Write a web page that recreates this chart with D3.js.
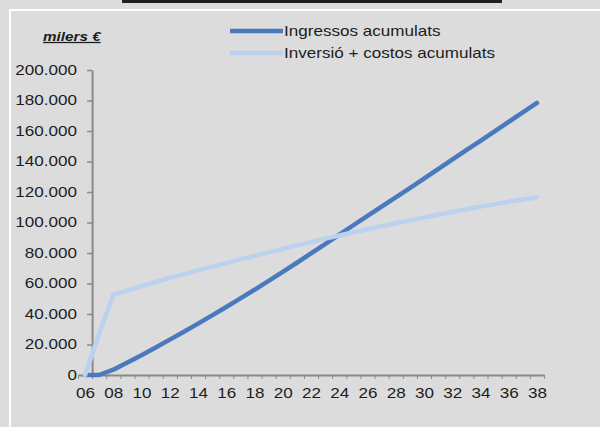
<!DOCTYPE html>
<html>
<head>
<meta charset="utf-8">
<script src="https://cdn.jsdelivr.net/npm/d3@7"></script>
<style>
  html, body { margin: 0; padding: 0; background: #dcdcdc; }
  svg { display: block; }
  text { font-family: "Liberation Sans", Arial, sans-serif; fill: #1c1c1c; transform-box: fill-box; }
  .sx-end   { transform-origin: right center;  transform: scaleX(1.22); }
  .sx-mid   { transform-origin: center center; transform: scaleX(1.22); }
  .sx-start { transform-origin: left center;   transform: scaleX(1.22); }
</style>
</head>
<body>
<svg id="chart" width="600" height="427"></svg>
<script>
// Years on the category axis (2006 – 2038)
const years = [2006, 2007, 2008, 2009, 2010, 2011, 2012, 2013, 2014, 2015, 2016,
               2017, 2018, 2019, 2020, 2021, 2022, 2023, 2024, 2025, 2026, 2027,
               2028, 2029, 2030, 2031, 2032, 2033, 2034, 2035, 2036, 2037, 2038];

// Cumulative revenue (thousands of €)
const ingressos = [0, 0, 3500, 8200, 13000, 18000, 23200, 28400, 33700, 39100, 44600,
                   50200, 55900, 61700, 67600, 73600, 79700, 85800, 92000, 98200, 104300,
                   110400, 116500, 122600, 128800, 135000, 141200, 147400, 153600, 159800,
                   166000, 172200, 178400];

// Cumulative investment + costs (thousands of €)
const inversio = [0, 27000, 52500, 55500, 58300, 61000, 63600, 66100, 68600, 71000, 73400,
                  75800, 78100, 80400, 82700, 85000, 87200, 89400, 91500, 93600, 95600,
                  97600, 99500, 101400, 103300, 105100, 106900, 108700, 110400, 112000,
                  113600, 115100, 116600];

const yTicks = [0, 20000, 40000, 60000, 80000, 100000, 120000, 140000, 160000, 180000, 200000];
const xLabelYears = [2006, 2008, 2010, 2012, 2014, 2016, 2018, 2020, 2022,
                     2024, 2026, 2028, 2030, 2032, 2034, 2036, 2038];
const seriesNames = ["Ingressos acumulats", "Inversió + costos acumulats"];
const unitLabel = "milers €";

const colors = { ingressos: "#4a79bd", inversio: "#bcd1ee" };
const axisColor = "#8a8a8a";

const svg = d3.select("#chart");

// Frame: dark strip at the top and the white panel edge
svg.append("rect").attr("x", 122).attr("y", 0).attr("width", 380).attr("height", 3).attr("fill", "#1e1e1e");
svg.append("line").attr("x1", 9).attr("x2", 600).attr("y1", 10).attr("y2", 10)
  .attr("stroke", "#ffffff").attr("stroke-width", 2);
svg.append("line").attr("x1", 10).attr("x2", 10).attr("y1", 9).attr("y2", 427)
  .attr("stroke", "#ffffff").attr("stroke-width", 2);

// Scales: categories sit between half-year boundaries
const x = d3.scaleLinear().domain([2005.5, 2038.5]).range([78, 544]);
const y = d3.scaleLinear().domain([0, 200000]).range([375, 70]);
const yAxisAt = 2006.5;

const locale = d3.formatLocale({ decimal: ",", thousands: ".", grouping: [3], currency: ["", " €"] });
const fmt = locale.format(",");

// Y axis
const gy = svg.append("g")
  .attr("transform", `translate(${x(yAxisAt)},0)`)
  .call(d3.axisLeft(y).tickValues(yTicks).tickFormat(fmt).tickSize(5).tickSizeOuter(0).tickPadding(10));
gy.select(".domain").attr("stroke", axisColor).attr("stroke-width", 2);
gy.selectAll(".tick line").attr("stroke", axisColor).attr("stroke-width", 1.5);
gy.selectAll(".tick text").attr("class", "sx-end").style("font-size", "14px").attr("fill", "#1c1c1c");

// X axis: minor ticks at every category boundary
const boundaries = years.map(d => d - 0.5).concat([years[years.length - 1] + 0.5]);
const gx = svg.append("g")
  .attr("transform", `translate(0,${y(0)})`)
  .call(d3.axisBottom(x).tickValues(boundaries).tickFormat("").tickSize(4).tickSizeOuter(0));
gx.select(".domain").attr("stroke", axisColor).attr("stroke-width", 2);
gx.selectAll(".tick line").attr("stroke", axisColor).attr("stroke-width", 1);

// X labels every two years
const gxl = svg.append("g")
  .attr("transform", `translate(0,${y(0)})`)
  .call(d3.axisBottom(x).tickValues(xLabelYears).tickFormat(d => String(d).slice(2)).tickSize(0).tickPadding(13));
gxl.select(".domain").remove();
gxl.selectAll(".tick text").attr("class", "sx-mid").style("font-size", "14px").attr("fill", "#1c1c1c");

// Unit label
svg.append("text")
  .attr("x", 43).attr("y", 41)
  .attr("class", "sx-start")
  .style("font-size", "12.5px").style("font-weight", "bold").style("font-style", "italic")
  .style("text-decoration", "underline")
  .text(unitLabel);

// Series lines
const line = d3.line().x((d, i) => x(years[i])).y(d => y(d));
svg.append("path").datum(ingressos)
  .attr("d", line).attr("fill", "none")
  .attr("stroke", colors.ingressos).attr("stroke-width", 4.5)
  .attr("stroke-linejoin", "round").attr("stroke-linecap", "round");
svg.append("path").datum(inversio)
  .attr("d", line).attr("fill", "none")
  .attr("stroke", colors.inversio).attr("stroke-width", 4.5)
  .attr("stroke-linejoin", "round").attr("stroke-linecap", "round");

// Legend
const legend = svg.append("g");
const legendItems = [
  { name: seriesNames[0], color: colors.ingressos, y: 31 },
  { name: seriesNames[1], color: colors.inversio, y: 53 }
];
legendItems.forEach(it => {
  legend.append("line").attr("x1", 230).attr("x2", 283).attr("y1", it.y).attr("y2", it.y)
    .attr("stroke", it.color).attr("stroke-width", 4.5);
  legend.append("text").attr("x", 284).attr("y", it.y).attr("dy", "0.35em")
    .attr("class", "sx-start").style("font-size", "14px")
    .text(it.name);
});
</script>
</body>
</html>
